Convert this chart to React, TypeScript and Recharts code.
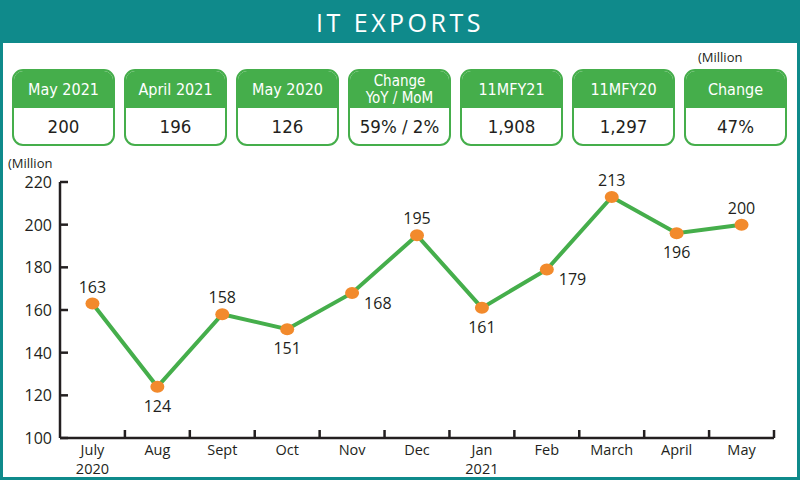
import React from 'react';
import { LineChart, Line, XAxis, YAxis, LabelList } from 'recharts';

const months = ['July', 'Aug', 'Sept', 'Oct', 'Nov', 'Dec', 'Jan', 'Feb', 'March', 'April', 'May'];
const years = ['2020', '', '', '', '', '', '2021', '', '', '', ''];
const exportsValues = [163, 124, 158, 151, 168, 195, 161, 179, 213, 196, 200];
const labelPlacement = ['top', 'bottom', 'top', 'bottom', 'right', 'top', 'bottom', 'right', 'top', 'bottom', 'top'];
const yTicks = [100, 120, 140, 160, 180, 200, 220];

const cardTitles = ['May 2021', 'April 2021', 'May 2020', 'Change\nYoY / MoM', '11MFY21', '11MFY20', 'Change'];
const cardValues = ['200', '196', '126', '59% / 2%', '1,908', '1,297', '47%'];

const data = months.map((m, i) => ({ month: m, year: years[i], value: exportsValues[i] }));

const TEAL = '#0f8a8b';
const GREEN = '#45ae4b';
const ORANGE = '#f28a2c';
const TEXT = '#231f20';
const FONT = "'Open Sans', sans-serif";
const COND = "'Liberation Sans Narrow', 'DejaVu Sans Condensed', 'Open Sans', sans-serif";

const YTick = (props: any) => {
  const { x, y, payload } = props;
  return (
    <g>
      <line x1={x} x2={x + 8} y1={y} y2={y} stroke={TEXT} strokeWidth={2.5} />
      <text x={x - 8} y={y} dy={6} textAnchor="end" fontSize={16} fill={TEXT} fontFamily={FONT}>
        {payload.value}
      </text>
    </g>
  );
};

const XTick = (props: any) => {
  const { x, y, payload, index } = props;
  const half = payload.offset ? payload.offset : 32.5;
  const yr = years[index];
  return (
    <g>
      <line x1={x + half} x2={x + half} y1={y} y2={y - 8} stroke={TEXT} strokeWidth={2.5} />
      <text x={x} y={y + 17} textAnchor="middle" fontSize={14.5} fill={TEXT} fontFamily={FONT}>
        {payload.value}
      </text>
      {yr ? (
        <text x={x} y={y + 36} textAnchor="middle" fontSize={14.5} fill={TEXT} fontFamily={FONT}>
          {yr}
        </text>
      ) : null}
    </g>
  );
};

const ValueLabel = (props: any) => {
  const { x, y, value, index } = props;
  const pos = labelPlacement[index];
  let tx = x;
  let ty = y;
  let anchor: any = 'middle';
  if (pos === 'top') ty = y - 11;
  else if (pos === 'bottom') ty = y + 25;
  else {
    tx = x + 12;
    ty = y + 16;
    anchor = 'start';
  }
  return (
    <text x={tx} y={ty} textAnchor={anchor} fontSize={16} fill={TEXT} fontFamily={FONT}>
      {value}
    </text>
  );
};

const OrangeDot = (props: any) => {
  const { cx, cy, index } = props;
  return <ellipse key={index} cx={cx} cy={cy} rx={7} ry={6} fill={ORANGE} />;
};

export default function App() {
  return (
    <div style={{ position: 'absolute', left: 0, top: 0, width: 800, height: 480, background: TEAL, overflow: 'hidden' }}>
      <div
        style={{
          position: 'absolute',
          left: 0,
          top: 0,
          width: 800,
          height: 43,
          display: 'flex',
          alignItems: 'center',
          justifyContent: 'center',
          color: '#fff',
          fontFamily: FONT,
          fontSize: 25,
          letterSpacing: 3.5,
        }}
      >
        IT EXPORTS
      </div>
      <div style={{ position: 'absolute', left: 3, top: 43, width: 794, height: 434, background: '#fff' }} />
      <div style={{ position: 'absolute', left: 698, top: 48, fontFamily: FONT, fontSize: 13, color: TEXT }}>(Million</div>
      <div style={{ position: 'absolute', left: 8, top: 154, fontFamily: FONT, fontSize: 13, color: TEXT }}>(Million</div>
      {cardTitles.map((t, i) => (
        <div
          key={i}
          style={{
            position: 'absolute',
            left: 12 + i * 112,
            top: 69,
            width: 103,
            height: 77,
            boxSizing: 'border-box',
            border: `2px solid ${GREEN}`,
            borderRadius: 11,
            overflow: 'hidden',
            background: '#fff',
          }}
        >
          <div
            style={{
              height: 37,
              background: GREEN,
              color: '#fff',
              display: 'flex',
              alignItems: 'center',
              justifyContent: 'center',
              textAlign: 'center',
              whiteSpace: 'pre-line',
              fontFamily: COND,
              fontSize: t.includes('\n') ? 15 : 16,
              lineHeight: '17px',
            }}
          >
            {t}
          </div>
          <div
            style={{
              height: 36,
              display: 'flex',
              alignItems: 'center',
              justifyContent: 'center',
              fontFamily: COND,
              fontSize: 18.5,
              color: TEXT,
            }}
          >
            {cardValues[i]}
          </div>
        </div>
      ))}
      <div style={{ position: 'absolute', left: 0, top: 0 }}>
        <LineChart width={800} height={480} data={data} margin={{ top: 182, right: 26, left: 0, bottom: 0 }}>
          <XAxis
            dataKey="month"
            scale="band"
            height={42}
            axisLine={{ stroke: TEXT, strokeWidth: 2.5 }}
            tickLine={false}
            tickSize={0}
            tickMargin={0}
            tick={<XTick />}
            interval={0}
          />
          <YAxis
            width={60}
            domain={[100, 220]}
            ticks={yTicks}
            axisLine={{ stroke: TEXT, strokeWidth: 2.5 }}
            tickLine={false}
            tickSize={0}
            tickMargin={0}
            tick={<YTick />}
            interval={0}
          />
          <Line
            type="linear"
            dataKey="value"
            stroke={GREEN}
            strokeWidth={4}
            dot={<OrangeDot />}
            activeDot={false}
            isAnimationActive={false}
          >
            <LabelList dataKey="value" content={<ValueLabel />} />
          </Line>
        </LineChart>
      </div>
    </div>
  );
}
